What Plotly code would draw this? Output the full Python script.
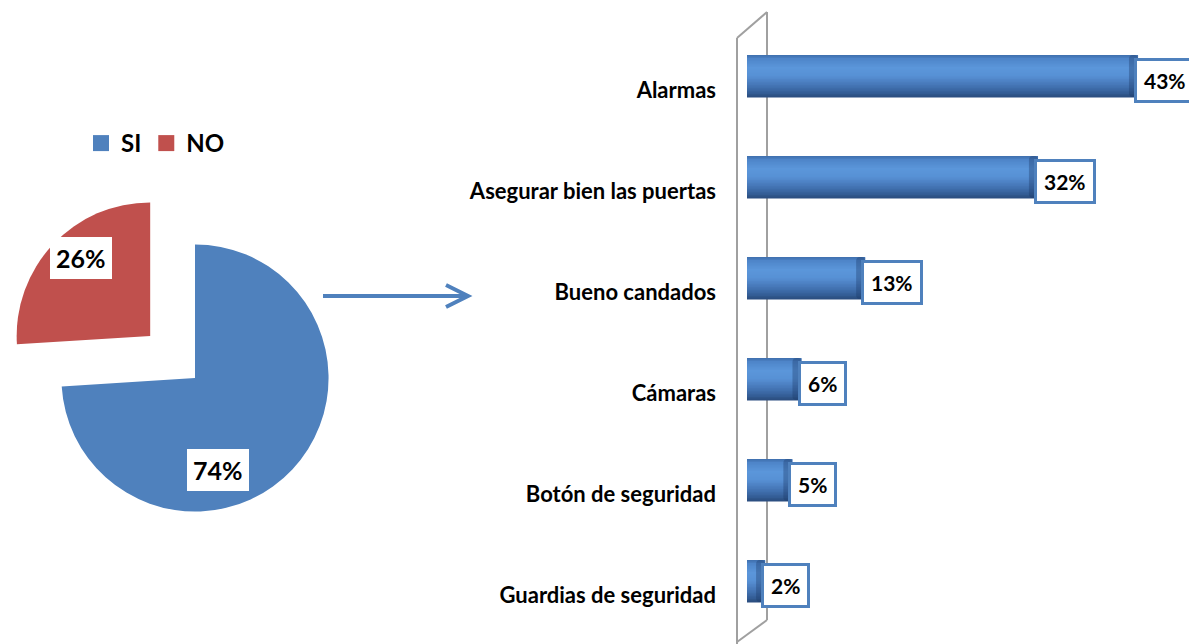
import plotly.graph_objects as go

# ---------------- data ----------------
pie_labels = ["SI", "NO"]
pie_values = [74, 26]
pie_colors = ["#4F81BD", "#C0504D"]

bar_categories = ["Alarmas", "Asegurar bien las puertas", "Bueno candados",
                  "Cámaras", "Botón de seguridad", "Guardias de seguridad"]
bar_values = [43, 32, 13, 6, 5, 2]

# ---------------- helpers ----------------
W, H = 1189, 644
FONT = "Lato"


def px(x):
    return x / W


def py(y):
    return 1 - y / H


def hex2rgb(h):
    h = h.lstrip("#")
    return tuple(int(h[i:i + 2], 16) for i in (0, 2, 4))


def lerp_color(stops, t):
    for (t0, c0), (t1, c1) in zip(stops, stops[1:]):
        if t0 <= t <= t1:
            f = (t - t0) / (t1 - t0) if t1 > t0 else 0
            a, b = hex2rgb(c0), hex2rgb(c1)
            r = [round(a[i] + (b[i] - a[i]) * f) for i in range(3)]
            return "rgb(%d,%d,%d)" % tuple(r)
    return stops[-1][1]


fig = go.Figure()

# ---------------- pie ----------------
fig.add_trace(go.Pie(
    labels=pie_labels, values=pie_values,
    marker=dict(colors=pie_colors),
    sort=False, direction="clockwise", rotation=0,
    pull=[0, 0.46], textinfo="none", hoverinfo="label+percent",
    domain=dict(x=[0, px(390)], y=[py(378) - 0.31, py(378) + 0.31]),
    showlegend=False,
))

# legend entries (square swatches like the original)
for lab, col in zip(pie_labels, pie_colors):
    fig.add_trace(go.Scatter(
        x=[None], y=[None], mode="markers", name=lab,
        marker=dict(symbol="square", size=16, color=col),
        showlegend=True, hoverinfo="skip",
    ))

# ---------------- cylinder bars (shaded stripes) ----------------
BAR_H = 0.416
shade = [(0.0, "#3E6DAA"), (0.08, "#4D84C8"), (0.3, "#5B96DA"),
         (0.5, "#5790D4"), (0.72, "#4576B6"), (0.9, "#345E97"), (1.0, "#2A4C7C")]
N = 28
for i in range(N):
    t0, t1 = i / N, (i + 1) / N
    col = lerp_color(shade, (t0 + t1) / 2)
    fig.add_trace(go.Bar(
        x=bar_values, y=bar_categories, orientation="h",
        offset=-BAR_H / 2 + t0 * BAR_H,
        width=(BAR_H / N + 0.008) if i < N - 1 else BAR_H / N,
        marker=dict(color=col, line=dict(width=0)),
        showlegend=False, hoverinfo="x+y",
    ))

# darker end face of each cylinder
CAP = 1.0
fig.add_trace(go.Bar(
    x=[CAP] * len(bar_values), base=[v - CAP for v in bar_values], y=bar_categories,
    orientation="h", offset=-BAR_H / 2, width=BAR_H,
    marker=dict(color="rgba(25,55,100,0.35)", line=dict(width=0), cornerradius=4),
    showlegend=False, hoverinfo="skip",
))

# ---------------- annotations ----------------
annotations = []
for cat, v in zip(bar_categories, bar_values):
    annotations.append(dict(
        x=v, y=cat, xref="x", yref="y", text="<b>%d%%</b>" % v,
        showarrow=False, xanchor="left", yanchor="middle", xshift=-4, yshift=-4,
        font=dict(family=FONT, size=21, color="black"),
        bgcolor="white", bordercolor="#4F81BD", borderwidth=3, borderpad=7,
    ))

pie_label_pos = {"SI": (218, 470), "NO": (81, 258)}
for lab, v in zip(pie_labels, pie_values):
    x0, y0 = pie_label_pos[lab]
    annotations.append(dict(
        x=px(x0), y=py(y0), xref="paper", yref="paper", text="<b>%d%%</b>" % v,
        showarrow=False, xanchor="center", yanchor="middle",
        font=dict(family=FONT, size=25, color="black"),
        bgcolor="white", borderpad=6, borderwidth=0,
    ))

# ---------------- shapes: arrow and 3D wall ----------------
shapes = []
arrow_col = "#4F81BD"
shapes.append(dict(type="line", xref="paper", yref="paper",
                   x0=px(323), y0=py(296), x1=px(466), y1=py(296),
                   line=dict(color=arrow_col, width=4)))
shapes.append(dict(type="path", xref="paper", yref="paper",
                   path="M %f %f L %f %f L %f %f" % (px(446), py(285), px(468), py(296), px(446), py(307)),
                   line=dict(color=arrow_col, width=4)))
wall_col = "#A0A0A0"
for (xa, ya, xb, yb) in [(737, 38, 737, 644), (737, 38, 767, 12),
                         (767, 12, 767, 620), (767, 620, 737, 642)]:
    shapes.append(dict(type="line", xref="paper", yref="paper", layer="below",
                       x0=px(xa), y0=py(ya), x1=px(xb), y1=py(yb),
                       line=dict(color=wall_col, width=2)))

# ---------------- layout ----------------
fig.update_layout(
    width=W, height=H, margin=dict(l=0, r=0, t=0, b=0),
    paper_bgcolor="white", plot_bgcolor="rgba(0,0,0,0)",
    barmode="overlay",
    font=dict(family=FONT, color="black"),
    xaxis=dict(domain=[px(747), 1], range=[0, 48.6], visible=False, fixedrange=True),
    yaxis=dict(domain=[py(631.5), py(25.5)], type="category",
               categoryorder="array", categoryarray=bar_categories,
               range=[5.5, -0.5], showgrid=False, zeroline=False, showline=False,
               ticks="", ticklabelstandoff=30, ticklabelshift=-14,
               tickfont=dict(family=FONT, size=22, color="black", weight="bold")),
    legend=dict(orientation="h", x=px(81), y=py(121), xanchor="left", yanchor="top",
                font=dict(family=FONT, size=24, color="black", weight="bold"),
                itemwidth=30, tracegroupgap=0, bgcolor="rgba(0,0,0,0)"),
    annotations=annotations, shapes=shapes,
)

fig.write_html("out.html", config={"displayModeBar": False},
               post_script="document.body.style.margin='0';document.body.style.padding='0';")
